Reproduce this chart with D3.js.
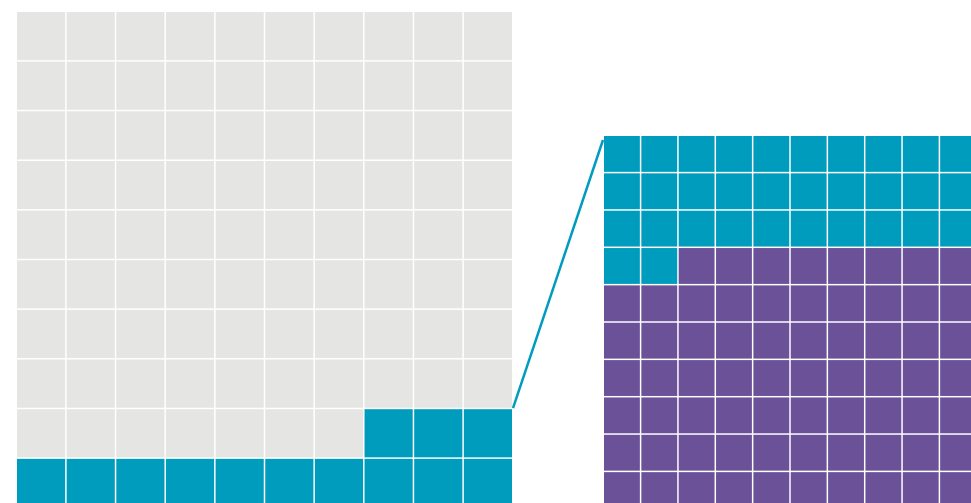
<!DOCTYPE html>
<html>
<head>
<meta charset="utf-8">
<script src="https://cdn.jsdelivr.net/npm/d3@7"></script>
<style>
  body { margin: 0; background: #fff; overflow: hidden; }
</style>
</head>
<body>
<div id="chart-area"></div>
<script>
// waffle data
var gridSize = 10;
var overviewTotal = 100;
var overviewHighlight = 13;   // cells in teal on the left grid
var detailTotal = 100;
var detailParts = ["teal", "purple"];
var detailCounts = [32, 68];

var colors = {gray: "#e5e5e3", teal: "#009cbe", purple: "#6b5198"};

var width = 971, height = 503;

var svg = d3.select("#chart-area")
    .append("svg")
    .attr("width", width)
    .attr("height", height);

var idx = d3.range(gridSize);

// left grid scales
var xL = d3.scaleBand().domain(idx).range([17, 512]).paddingInner(0.03);
var yL = d3.scaleBand().domain(idx).range([12, 507]).paddingInner(0.03);

// right grid scales (zoomed, runs off the page)
var xR = d3.scaleBand().domain(idx).range([604, 976]).paddingInner(0.04);
var yR = d3.scaleBand().domain(idx).range([136, 508]).paddingInner(0.04);

// left cells: filled from bottom row, right to left
var leftCells = d3.range(overviewTotal).map(function(i){
  var row = gridSize - 1 - Math.floor(i / gridSize);
  var col = gridSize - 1 - (i % gridSize);
  return {row: row, col: col, cat: i < overviewHighlight ? "teal" : "gray"};
});

// right cells: filled from top row, left to right
var detailCats = [];
detailParts.forEach(function(p, k){
  d3.range(detailCounts[k]).forEach(function(){ detailCats.push(p); });
});
var rightCells = d3.range(detailTotal).map(function(i){
  return {row: Math.floor(i / gridSize), col: i % gridSize, cat: detailCats[i]};
});

svg.append("g").selectAll("rect")
  .data(leftCells)
  .enter().append("rect")
  .attr("x", function(d){ return xL(d.col); })
  .attr("y", function(d){ return yL(d.row); })
  .attr("width", xL.bandwidth())
  .attr("height", yL.bandwidth())
  .attr("fill", function(d){ return colors[d.cat]; });

svg.append("g").selectAll("rect")
  .data(rightCells)
  .enter().append("rect")
  .attr("x", function(d){ return xR(d.col); })
  .attr("y", function(d){ return yR(d.row); })
  .attr("width", xR.bandwidth())
  .attr("height", yR.bandwidth())
  .attr("fill", function(d){ return colors[d.cat]; });

// connector line from highlighted block to zoomed grid
var topHighlightRow = gridSize - 1 - Math.floor((overviewHighlight - 1) / gridSize);
svg.append("line")
  .attr("x1", xL(gridSize - 1) + xL.bandwidth() + 1)
  .attr("y1", yL(topHighlightRow) - 1)
  .attr("x2", xR(0) - 1)
  .attr("y2", yR(0) + 4)
  .attr("stroke", colors.teal)
  .attr("stroke-width", 2.5);
</script>
</body>
</html>
